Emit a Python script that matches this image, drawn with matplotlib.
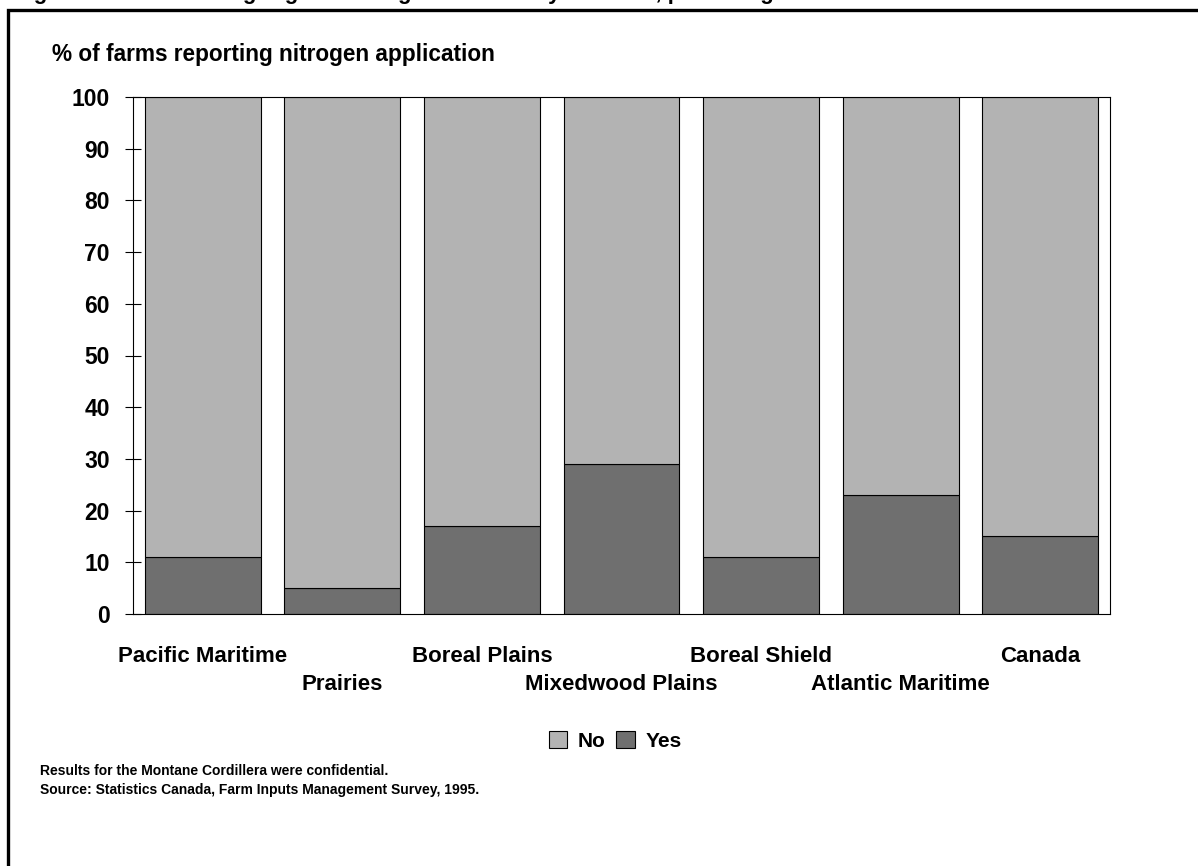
#!/usr/bin/python
# stacked bars : share of farms reporting nitrogen application, by ecozone

import numpy as np
import matplotlib
matplotlib.use("Agg")
import matplotlib.pyplot as plt
from matplotlib.lines import Line2D

plt.rcParams['font.family'] = ['Liberation Sans', 'DejaVu Sans']
plt.rcParams['font.weight'] = 'bold'

##################################################################
# data
zones = ["Pacific Maritime", "Prairies", "Boreal Plains", "Mixedwood Plains",
         "Boreal Shield", "Atlantic Maritime", "Canada"]
yes = [11, 5, 17, 29, 11, 23, 15]
no = [89, 95, 83, 71, 89, 77, 85]
yticks = [0, 10, 20, 30, 40, 50, 60, 70, 80, 90, 100]

title = "Figure 3 \u2013 Farms using organic nitrogen sources by ecozone, percentage"
ylab = "% of farms reporting nitrogen application"
notes = ["Results for the Montane Cordillera were confidential.",
         "Source: Statistics Canada, Farm Inputs Management Survey, 1995."]

c_no = "#b3b3b3"
c_yes = "#6f6f6f"

##################################################################
W, H = 1198, 866
fig = plt.figure(figsize=(W/100., H/100.), dpi=100)
ax = fig.add_axes([133./W, 1-614./H, (1110-133.)/W, (614-97.)/H])

x = np.arange(len(zones))
ax.bar(x, yes, width=0.83, color=c_yes, edgecolor='black', linewidth=0.8, label="Yes")
ax.bar(x, no, width=0.83, bottom=yes, color=c_no, edgecolor='black', linewidth=0.8, label="No")

ax.set_xlim(-0.5, len(zones)-0.5)
ax.set_ylim(0, 100)
ax.set_yticks(yticks)
ax.set_yticklabels([str(v) for v in yticks], fontsize=16.5, fontweight='bold')
ax.tick_params(axis='y', direction='inout', length=11.5, width=0.8, pad=11)

# staggered category labels (odd ones one row lower)
ax.set_xticks(x)
ax.set_xticklabels(zones, fontsize=16, fontweight='bold')
ax.tick_params(axis='x', length=0, pad=23)
for i, t in enumerate(ax.xaxis.get_major_ticks()):
  if i % 2 == 1:
    t.set_pad(43)

for s in ax.spines.values():
  s.set_linewidth(0.8)

fig.text(52./W, 1-61./H, ylab, fontsize=16.3, fontweight='bold', va='baseline')

# legend
h, l = ax.get_legend_handles_labels()
fig.legend(h[::-1], l[::-1], loc='center', bbox_to_anchor=(615./W, 1-741./H), ncol=2,
           frameon=False, handlelength=0.9, handleheight=0.9,
           handletextpad=0.5, columnspacing=0.5, prop={'weight': 'bold', 'size': 15})

fig.text(40./W, 1-775./H, notes[0], fontsize=10, fontweight='bold', va='baseline')
fig.text(40./W, 1-794./H, notes[1], fontsize=10, fontweight='bold', va='baseline')

# figure frame, cut off on right and bottom
fig.add_artist(Line2D([8./W, 8./W, 1.0], [0.0, 1-10./H, 1-10./H], transform=fig.transFigure,
                      color='black', linewidth=2.4, solid_joinstyle='miter'))
# title mostly outside the picture, only descenders show
fig.text(14./W, 1+1.5/H, title, fontsize=16, fontweight='bold', va='baseline')

fig.savefig("out.png", dpi=100)
